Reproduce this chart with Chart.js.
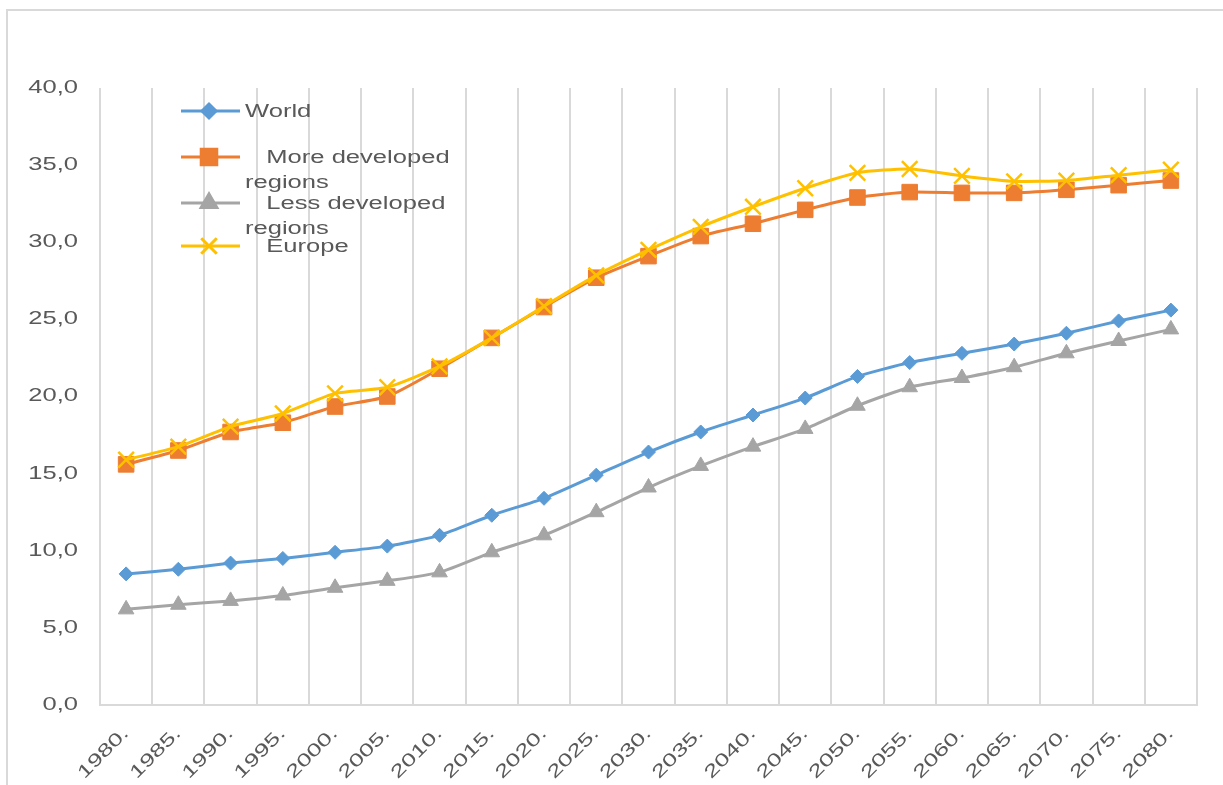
<!DOCTYPE html>
<html>
<head>
<meta charset="utf-8">
<script src="https://cdn.jsdelivr.net/npm/chart.js@4/dist/chart.umd.min.js"></script>
<style>
    body { margin: 0; background: #ffffff; }
    #wrap { position: relative; width: 1223px; height: 785px; overflow: hidden; }
    #frame { position: absolute; left: 6px; top: 9px; width: 1240px; height: 800px; border: 2px solid #d9d9d9; }
    #grafico { position: absolute; left: 0; top: 0; }
</style>
</head>
<body>
<div id="wrap">
    <div id="frame"></div>
    <canvas id="grafico" width="1223" height="785"></canvas>
</div>
<script>
var anos = ["1980.", "1985.", "1990.", "1995.", "2000.", "2005.", "2010.", "2015.", "2020.", "2025.", "2030.",
    "2035.", "2040.", "2045.", "2050.", "2055.", "2060.", "2065.", "2070.", "2075.", "2080."];

var world = [8.5, 8.8, 9.2, 9.5, 9.9, 10.3, 11.0, 12.3, 13.4, 14.9, 16.4,
    17.7, 18.8, 19.9, 21.3, 22.2, 22.8, 23.4, 24.1, 24.9, 25.6];
var moreDeveloped = [15.6, 16.5, 17.7, 18.3, 19.35, 20.0, 21.8, 23.8, 25.8, 27.7, 29.1,
    30.4, 31.2, 32.1, 32.9, 33.25, 33.2, 33.2, 33.4, 33.7, 34.0];
var lessDeveloped = [6.2, 6.5, 6.75, 7.1, 7.6, 8.05, 8.6, 9.9, 11.0, 12.5, 14.1,
    15.5, 16.75, 17.9, 19.4, 20.6, 21.2, 21.9, 22.8, 23.6, 24.35];
var europe = [15.9, 16.75, 18.05, 18.9, 20.2, 20.6, 21.95, 23.8, 25.85, 27.85, 29.5,
    31.0, 32.3, 33.5, 34.5, 34.75, 34.3, 33.95, 34.0, 34.35, 34.7];

var legendText = [["World"], ["   More developed", "regions"], ["   Less developed", "regions"], ["   Europe"]];
var yTicks = [0, 5, 10, 15, 20, 25, 30, 35, 40];

var fonte = "'Liberation Sans', Arial, sans-serif";
var corTexto = "#595959";
var estica = 1.42; // o texto do original e bem mais largo

// estica todo texto na horizontal, ancorado no ponto de desenho
var textoLargo = {
    id: "textoLargo",
    beforeInit: function (chart) {
        var c = chart.ctx;
        c.fillText = function (txt, x, y) {
            this.save();
            this.translate(x, y);
            this.scale(estica, 1);
            CanvasRenderingContext2D.prototype.fillText.call(this, txt, 0, 0);
            this.restore();
        };
    }
};

// legenda desenhada dentro da area do grafico, como no original
var legendaInterna = {
    id: "legendaInterna",
    afterDraw: function (chart) {
        var ctx = chart.ctx;
        var linhas = [111, 157, 203, 246];
        ctx.save();
        chart.data.datasets.forEach(function (ds, i) {
            var y = linhas[i];
            ctx.strokeStyle = ds.borderColor;
            ctx.lineWidth = 3;
            ctx.beginPath();
            ctx.moveTo(181, y);
            ctx.lineTo(240, y);
            ctx.stroke();
            ctx.fillStyle = ds.pointBackgroundColor;
            ctx.strokeStyle = ds.pointBorderColor;
            Chart.helpers.drawPoint(ctx, {
                pointStyle: ds.pointStyle,
                radius: ds.pointRadius,
                borderWidth: ds.pointBorderWidth,
                rotation: 0
            }, 209, y);
            ctx.fillStyle = corTexto;
            ctx.font = "18px " + fonte;
            ctx.textBaseline = "middle";
            ctx.textAlign = "left";
            legendText[i].forEach(function (txt, j) {
                ctx.fillText(txt, 245, y + 1 + j * 25);
            });
        });
        ctx.restore();
    }
};

function serie(label, data, cor, estilo, raio, ordem) {
    return {
        label: label,
        data: data,
        borderColor: cor,
        backgroundColor: cor,
        borderWidth: 3,
        pointStyle: estilo,
        pointRadius: raio,
        pointHoverRadius: raio,
        pointBackgroundColor: cor,
        pointBorderColor: cor,
        pointBorderWidth: estilo === "crossRot" ? 2.5 : 1,
        tension: 0.2,
        order: ordem
    };
}

var ctx1 = document.getElementById("grafico");

new Chart(ctx1, {
    type: "line",
    data: {
        labels: anos,
        datasets: [
            serie("World", world, "#5B9BD5", "rectRot", 7, 3),
            serie("More developed regions", moreDeveloped, "#ED7D31", "rect", 11, 2),
            serie("Less developed regions", lessDeveloped, "#A5A5A5", "triangle", 9, 1),
            serie("Europe", europe, "#FFC000", "crossRot", 11, 0)
        ]
    },
    options: {
        responsive: false,
        animation: false,
        layout: {
            padding: { left: 0, top: 88, right: 26, bottom: 0 }
        },
        scales: {
            x: {
                offset: true,
                grid: {
                    offset: true,
                    color: "#d9d9d9",
                    lineWidth: 2,
                    drawTicks: false
                },
                border: { color: "#d9d9d9", width: 2 },
                ticks: {
                    color: corTexto,
                    font: { size: 18, family: fonte },
                    maxRotation: 45,
                    minRotation: 45,
                    autoSkip: false,
                    padding: 18
                },
                afterFit: function (scale) {
                    scale.height = 80;
                }
            },
            y: {
                min: 0,
                max: 40,
                afterBuildTicks: function (scale) {
                    scale.ticks = yTicks.map(function (v) { return { value: v }; });
                },
                grid: { display: false, drawTicks: false },
                border: { display: false },
                ticks: {
                    color: corTexto,
                    font: { size: 18, family: fonte },
                    padding: 22,
                    callback: function (value) {
                        return new Intl.NumberFormat("pt-BR", {
                            minimumFractionDigits: 1,
                            maximumFractionDigits: 1
                        }).format(value);
                    }
                },
                afterFit: function (scale) {
                    scale.width = 100;
                }
            }
        },
        plugins: {
            legend: { display: false },
            tooltip: { enabled: false }
        }
    },
    plugins: [textoLargo, legendaInterna]
});
</script>
</body>
</html>
